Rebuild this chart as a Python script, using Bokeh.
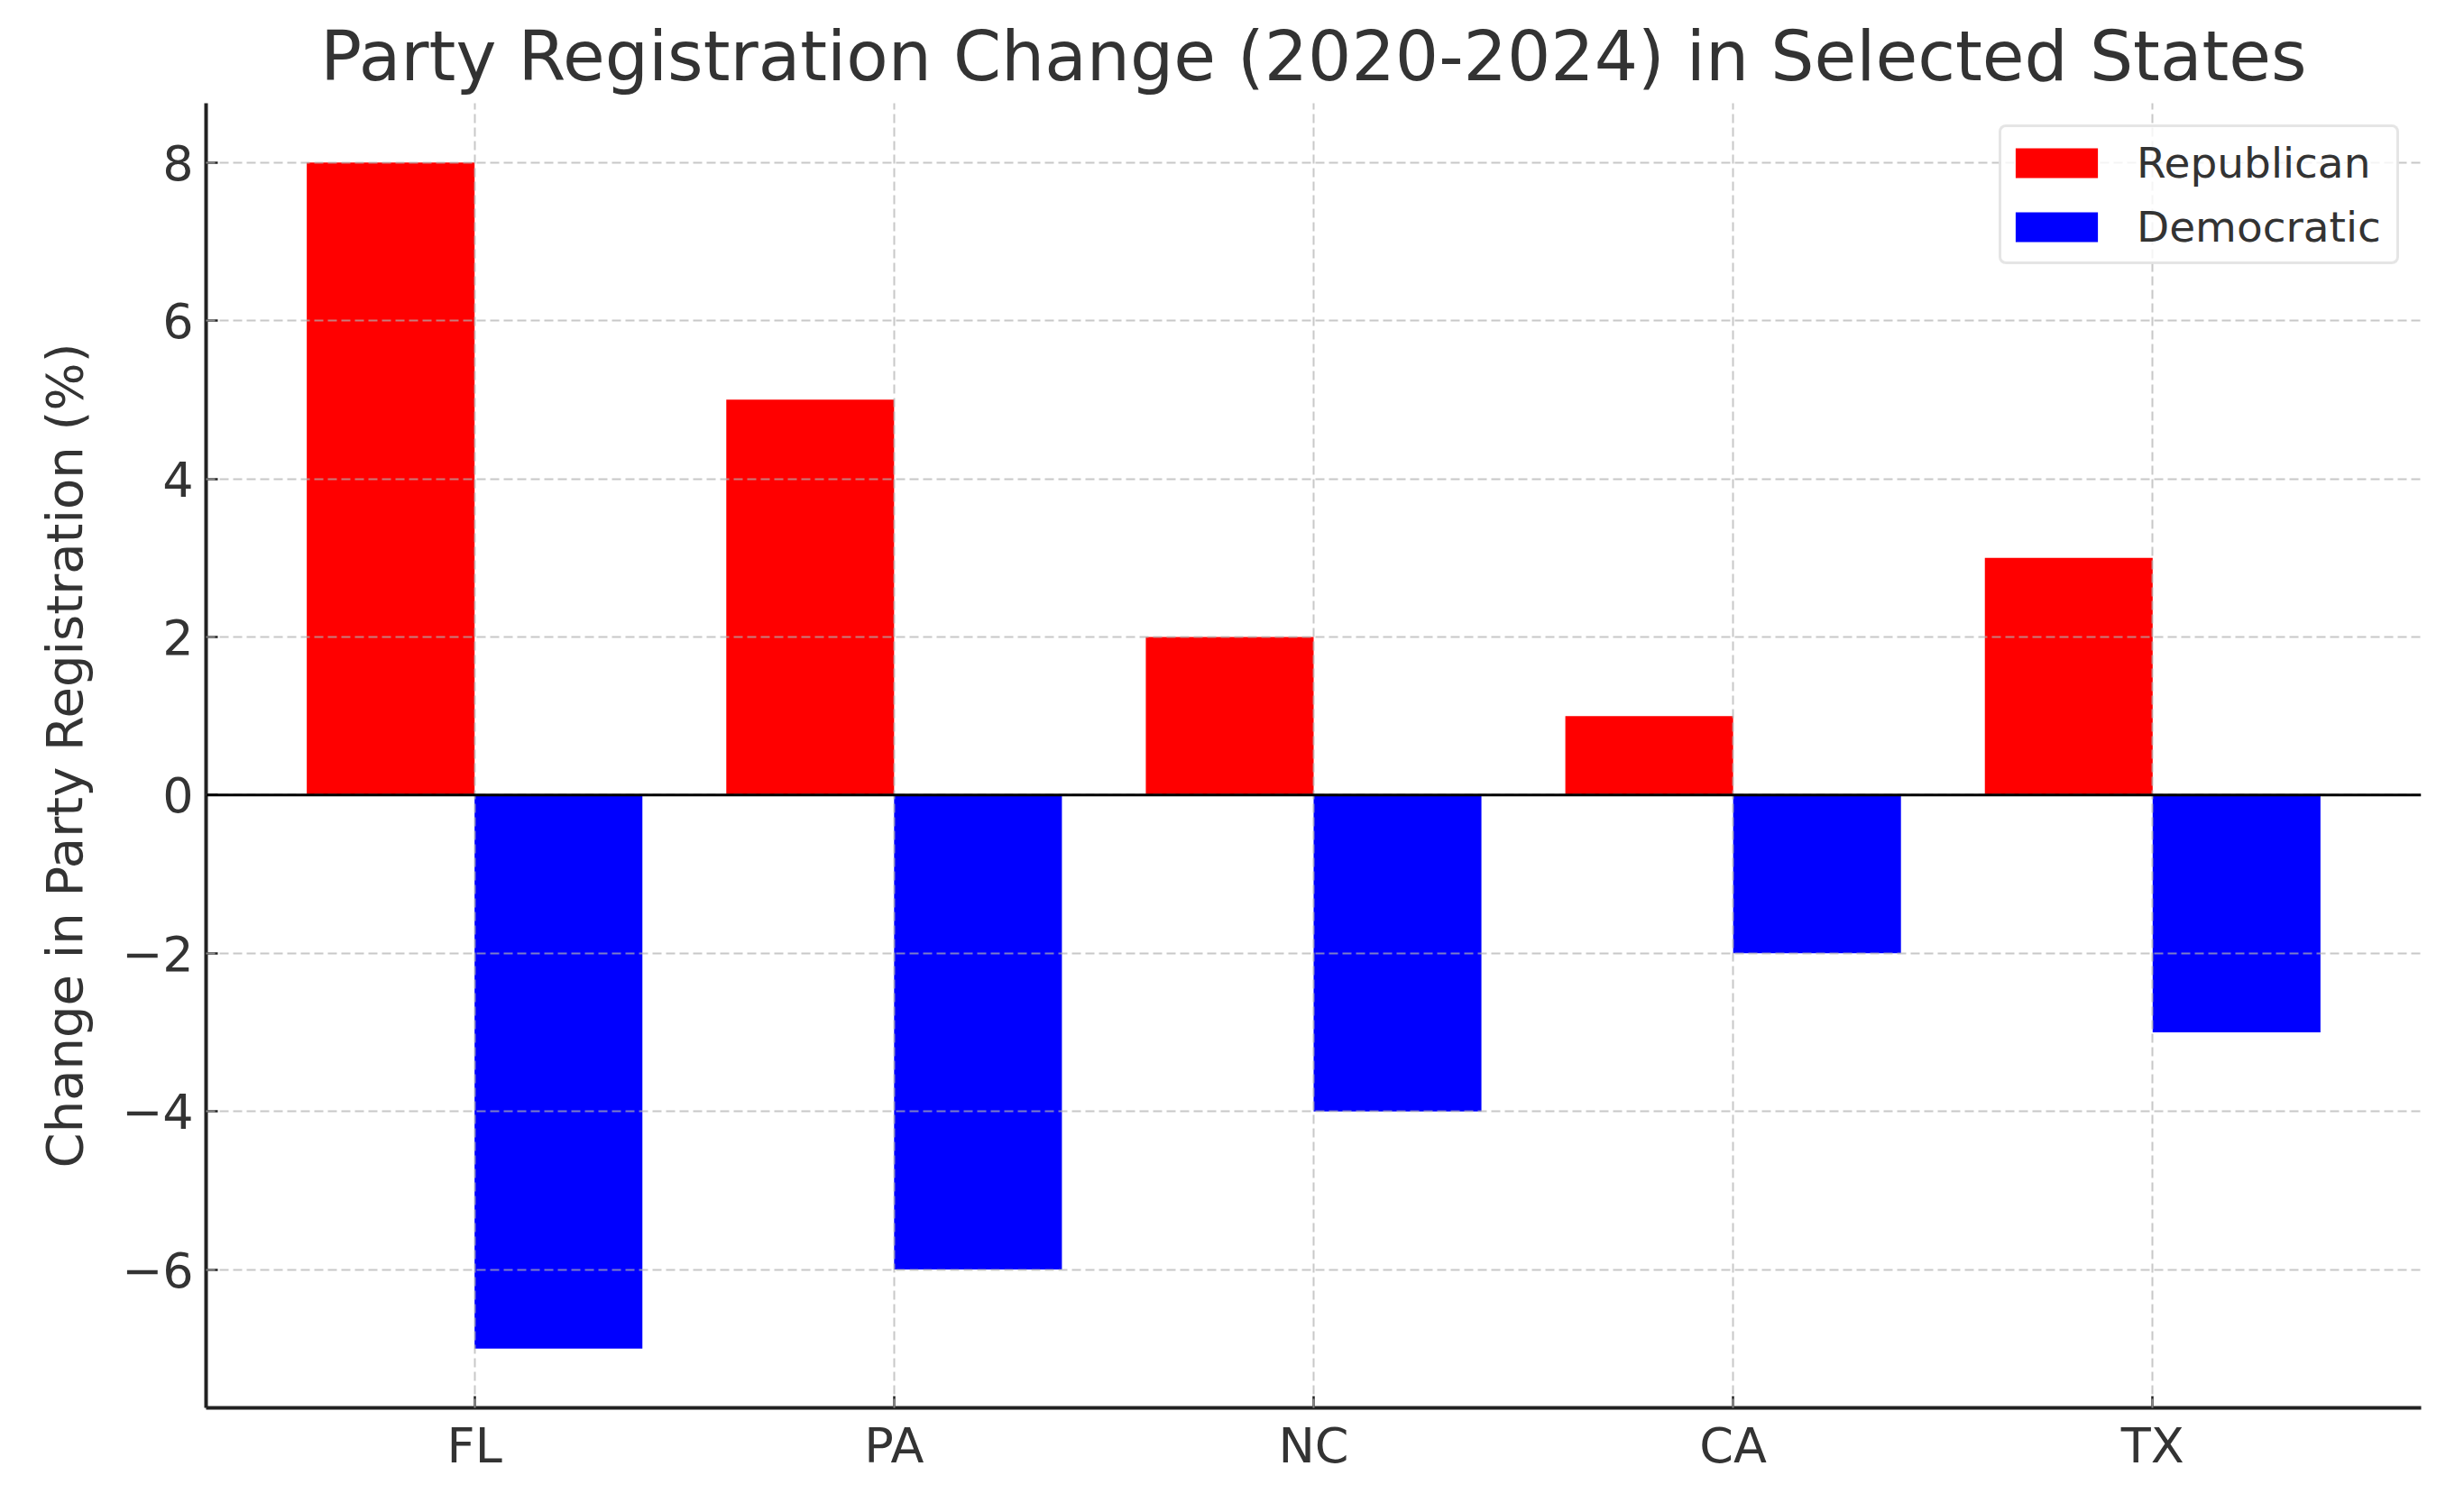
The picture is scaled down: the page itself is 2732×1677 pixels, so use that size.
from bokeh.plotting import figure
from bokeh.models import ColumnDataSource, FactorRange, Range1d, FixedTicker, Span
from bokeh.transform import dodge
from bokeh.embed import file_html
from bokeh.resources import INLINE

states = ["FL", "PA", "NC", "CA", "TX"]
republican = [8, 5, 2, 1, 3]
democratic = [-7, -6, -4, -2, -3]
y_ticks = [-6, -4, -2, 0, 2, 4, 6, 8]
y_tick_labels = ["\u22126", "\u22124", "\u22122", "0", "2", "4", "6", "8"]
title_text = "Party Registration Change (2020-2024) in Selected States"
y_label = "Change in Party Registration (%)"
series_names = ["Republican", "Democratic"]
series_colors = ["#ff0000", "#0000ff"]

FONT = "DejaVu Sans"
TXT = "#333333"

src = ColumnDataSource(dict(state=states, rep=republican, dem=democratic))

p = figure(
    width=2716, height=1661,
    x_range=FactorRange(factors=states, range_padding=0.14, range_padding_units="absolute"),
    y_range=Range1d(-7.75, 8.75),
    output_backend="svg", toolbar_location=None,
    title=title_text,
    min_border_left=228, min_border_right=32, min_border_top=114, min_border_bottom=100,
)
p.outline_line_color = None
p.background_fill_color = "white"
p.border_fill_color = "white"

p.title.text_font = FONT
p.title.text_font_size = "76px"
p.title.text_font_style = "normal"
p.title.text_color = TXT
p.title.align = "center"
p.title.standoff = 15

p.vbar(x=dodge("state", -0.2, range=p.x_range), top="rep", bottom=0, width=0.4,
       source=src, fill_color=series_colors[0], line_color=None, legend_label=series_names[0])
p.vbar(x=dodge("state", 0.2, range=p.x_range), top="dem", bottom=0, width=0.4,
       source=src, fill_color=series_colors[1], line_color=None, legend_label=series_names[1])

p.add_layout(Span(location=0, dimension="width", line_color="black", line_width=3))

for g in (p.xgrid, p.ygrid):
    g.grid_line_color = "#b0b0b0"
    g.grid_line_alpha = 0.7
    g.grid_line_width = 2
    g.grid_line_dash = "10 5"
    g.level = "guide"

p.yaxis.ticker = FixedTicker(ticks=y_ticks)
p.yaxis.major_label_overrides = {t: l for t, l in zip(y_ticks, y_tick_labels)}
p.yaxis.axis_label = y_label
p.yaxis.minor_tick_line_color = None

for ax in (p.xaxis, p.yaxis):
    ax.axis_line_width = 4
    ax.axis_line_color = "#222222"
    ax.major_tick_line_color = "#222222"
    ax.major_tick_line_width = 2.5
    ax.major_tick_in = 13
    ax.major_tick_out = 0
    ax.major_label_text_font = FONT
    ax.major_label_text_font_size = "54px"
    ax.major_label_text_color = TXT
    ax.axis_label_text_font = FONT
    ax.axis_label_text_font_size = "56px"
    ax.axis_label_text_font_style = "normal"
    ax.axis_label_text_color = TXT
p.xaxis.major_label_standoff = 10
p.yaxis.major_label_standoff = 14
p.yaxis.axis_label_standoff = 28

lg = p.legend[0]
lg.location = "top_right"
lg.margin = 24
lg.padding = 4
lg.spacing = 1
lg.glyph_width = 114
lg.glyph_height = 41
lg.label_height = 70
lg.label_width = 284
lg.label_standoff = 32
lg.label_text_font = FONT
lg.label_text_font_size = "47px"
lg.label_text_color = TXT
lg.border_line_color = "#cccccc"
lg.border_line_width = 3
lg.border_radius = 8
lg.background_fill_alpha = 0.8

open("out.html", "w").write(file_html(p, INLINE))
